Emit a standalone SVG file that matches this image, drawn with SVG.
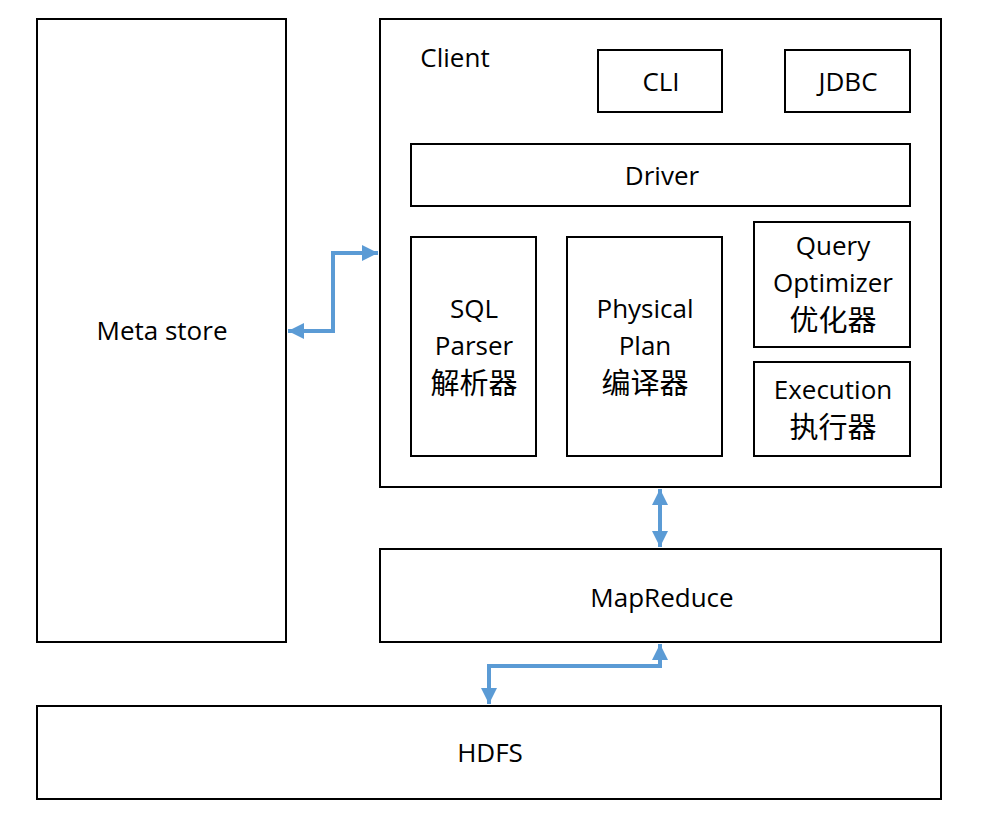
<svg xmlns="http://www.w3.org/2000/svg" width="992" height="835" viewBox="0 0 992 835">
<defs>
<style>
.box{fill:#fff;stroke:#000;stroke-width:2}
.t{font-family:"Open Sans","Noto Sans CJK SC",sans-serif;font-size:26px;fill:#000;text-anchor:middle}
.z{font-family:"Noto Sans CJK SC",sans-serif;font-size:29px;font-weight:400;fill:#000;text-anchor:middle}
.c{fill:none;stroke:#5B9BD5;stroke-width:4}
</style>
<marker id="ah" viewBox="0 0 10 10" refX="10" refY="5" markerWidth="5" markerHeight="4" markerUnits="strokeWidth" orient="auto-start-reverse">
<path d="M0,0L10,5L0,10z" fill="#5B9BD5"/>
</marker>
</defs>
<rect width="992" height="835" fill="#fff"/>
<g id="metastore"><rect class="box" x="37" y="19" width="249" height="623"/><text class="t" x="162" y="340">Meta store</text></g>
<g id="client"><rect class="box" x="380" y="19" width="561" height="468"/><text class="t" x="455" y="67">Client</text></g>
<g id="cli"><rect class="box" x="598" y="50" width="124" height="62"/><text class="t" x="661" y="91">CLI</text></g>
<g id="jdbc"><rect class="box" x="785" y="50" width="125" height="62"/><text class="t" x="848" y="91">JDBC</text></g>
<g id="driver"><rect class="box" x="411" y="144" width="499" height="62"/><text class="t" x="662" y="185">Driver</text></g>
<g id="sqlparser"><rect class="box" x="411" y="237" width="125" height="219"/><text class="t" x="474" y="318">SQL</text><text class="t" x="474" y="355">Parser</text><text class="z" x="474" y="394">解析器</text></g>
<g id="physicalplan"><rect class="box" x="567" y="237" width="155" height="219"/><text class="t" x="645" y="318">Physical</text><text class="t" x="645" y="355">Plan</text><text class="z" x="645" y="394">编译器</text></g>
<g id="optimizer"><rect class="box" x="754" y="222" width="156" height="125"/><text class="t" x="833" y="255">Query</text><text class="t" x="833" y="292">Optimizer</text><text class="z" x="833" y="331">优化器</text></g>
<g id="execution"><rect class="box" x="754" y="362" width="156" height="94"/><text class="t" x="833" y="399">Execution</text><text class="z" x="833" y="438">执行器</text></g>
<g id="mapreduce"><rect class="box" x="380" y="549" width="561" height="93"/><text class="t" x="662" y="607">MapReduce</text></g>
<g id="hdfs"><rect class="box" x="37" y="706" width="904" height="93"/><text class="t" x="490" y="762">HDFS</text></g>
<g id="connectors">
<path class="c" d="M288,331H333V253H378" marker-start="url(#ah)" marker-end="url(#ah)"/>
<path class="c" d="M660,489V547" marker-start="url(#ah)" marker-end="url(#ah)"/>
<path class="c" d="M660,644V666H489V704" marker-start="url(#ah)" marker-end="url(#ah)"/>
</g>
</svg>
